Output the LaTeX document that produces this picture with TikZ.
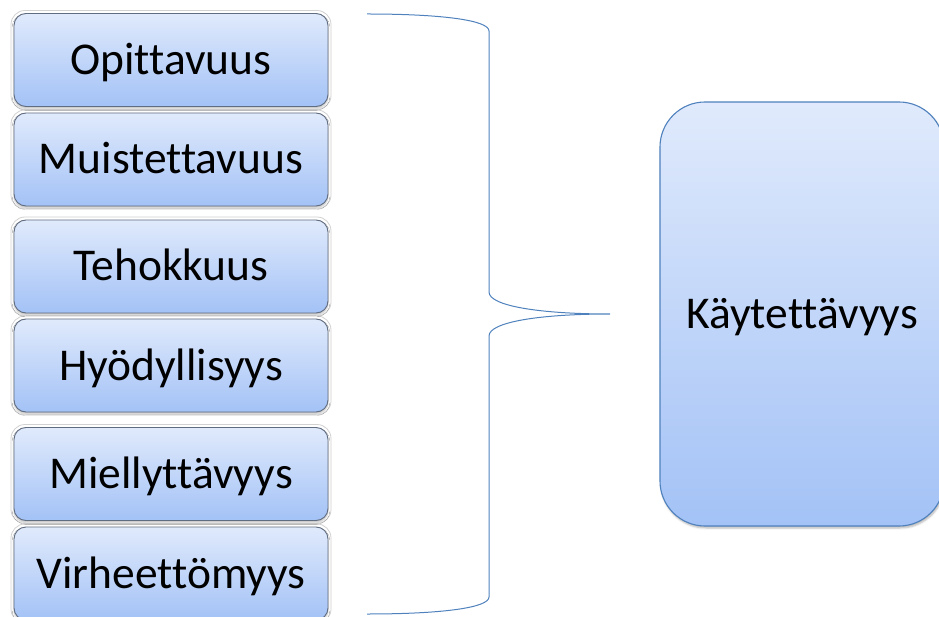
\documentclass[tikz,border=0pt]{standalone}
\usepackage{fontspec}
\setmainfont[Ligatures=NoCommon]{Carlito}
\usetikzlibrary{shadows.blur}
\definecolor{topc}{RGB}{224,234,252}
\definecolor{botc}{RGB}{163,194,246}
\definecolor{boxline}{RGB}{96,108,128}
\definecolor{bracec}{RGB}{79,129,189}
\tikzset{
  itembox/.style={rounded corners=12pt, top color=topc, bottom color=botc,
    draw=boxline, line width=0.9pt, minimum width=314pt, minimum height=93pt,
    font=\fontsize{45.5}{50}\selectfont, inner sep=0pt, text height=34pt, text depth=5pt,
    blur shadow={shadow xshift=0pt, shadow yshift=-2pt, shadow blur steps=4, shadow opacity=25}},
  halo/.style={rounded corners=14pt, draw=black!18, line width=0.8pt, fill=white,
    minimum width=320pt, minimum height=99pt},
  bigbox/.style={rounded corners=45pt, top color=topc, bottom color=botc,
    draw=bracec, line width=1.1pt, minimum width=284pt, minimum height=424pt,
    font=\fontsize{45.5}{50}\selectfont, inner sep=0pt, text height=34pt, text depth=5pt,
    blur shadow={shadow xshift=1pt, shadow yshift=-2pt, shadow blur steps=4, shadow opacity=30}},
  bracel/.style={draw=bracec, line width=1pt}
}
\begin{document}
\begin{tikzpicture}[x=1pt,y=-1pt]
\useasboundingbox (0,0) rectangle (939,617);
\begin{scope}
\clip (0,0) rectangle (939,617);
\foreach \n/\y in {h1/60,h2/159.5,h3/266.5,h4/365.5,h5/474,h6/573.5}{
  \node[halo] (\n) at (171,\y) {};
}
\node[itembox] (b1) at (171,60) {Opittavuus};
\node[itembox] (b2) at (171,159.5) {Muistettavuus};
\node[itembox] (b3) at (171,266.5) {Tehokkuus};
\node[itembox] (b4) at (171,365.5) {Hyödyllisyys};
\node[itembox] (b5) at (171,474) {Miellyttävyys};
\node[itembox] (b6) at (171,573.5) {Virheettömyys};
\node[bigbox] (big) at (802,314) {Käytettävyys};
\coordinate (btop) at (367,14);
\coordinate (bbot) at (367,614);
\coordinate (btip) at (610,314);
\draw[bracel] (btop) .. controls (440,14) and (489,20) .. (489,31)
  -- (489,292) .. controls (489,306) and (540,314) .. (btip)
  .. controls (540,314) and (489,322) .. (489,336)
  -- (489,597) .. controls (489,608) and (440,614) .. (bbot);
\end{scope}
\end{tikzpicture}
\end{document}
